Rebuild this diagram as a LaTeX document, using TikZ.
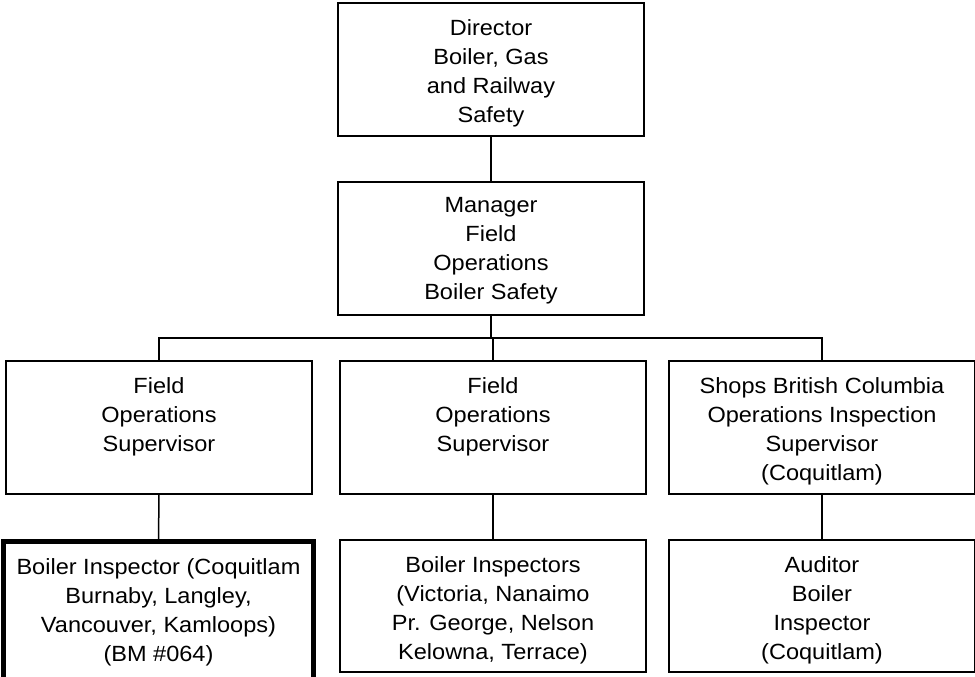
\documentclass[tikz,border=0pt]{standalone}
\usepackage{fontspec}
\setmainfont{Liberation Sans}[FakeStretch=1.07]
\newcommand{\boxfont}{\fontsize{22}{29}\selectfont}
\begin{document}
\begin{tikzpicture}[x=1pt,y=-1pt,
  box/.style={draw=black, line width=1.5pt, fill=white, rectangle, inner sep=0pt, outer sep=0pt, minimum width=306pt, minimum height=133pt},
  thickbox/.style={box, line width=4.5pt, minimum width=310pt, minimum height=170pt},
  txt/.style={anchor=north, align=center, inner sep=0pt, font=\boxfont},
  link/.style={draw=black, line width=1.5pt}]
\useasboundingbox (0,0) rectangle (975,677);
% boxes
\node[box] (d) at (491,69.5) {};
\node[box] (m) at (491,248.5) {};
\node[box] (a) at (159,427.5) {};
\node[box] (b) at (493,427.5) {};
\node[box] (c) at (822,427.5) {};
\node[thickbox] (a4) at (158.5,626.5) {};
\node[box, minimum height=132pt] (b4) at (493,606) {};
\node[box, minimum height=132pt] (c4) at (822,606) {};
% texts
\node[txt] (dt) at ([yshift=-16pt]d.north) {Director\\Boiler, Gas\\and Railway\\Safety};
\node[txt] (mt) at ([yshift=-15.5pt]m.north) {Manager\\Field\\Operations\\Boiler Safety};
\node[txt] (at) at ([yshift=-16pt]a.north) {Field\\Operations\\Supervisor};
\node[txt] (bt) at ([yshift=-16pt]b.north) {Field\\Operations\\Supervisor};
\node[txt] (ct) at ([yshift=-16pt]c.north) {Shops British Columbia\\Operations Inspection\\Supervisor\\(Coquitlam)};
\node[txt] (a4t) at ([yshift=-17pt]a4.north) {Boiler Inspector (Coquitlam\\Burnaby, Langley,\\Vancouver, Kamloops)\\(BM \#064)};
\node[txt] (b4t) at ([yshift=-16.5pt]b4.north) {Boiler Inspectors\\(Victoria, Nanaimo\\Pr. George, Nelson\\Kelowna, Terrace)};
\node[txt] (c4t) at ([yshift=-16.5pt]c4.north) {Auditor\\Boiler\\Inspector\\(Coquitlam)};
% connectors
\coordinate (bus) at (491,338);
\draw[link] (d.south) -- (m.north);
\draw[link] (m.south) -- (bus);
\draw[link] (a.north) |- (bus) -| (c.north);
\draw[link] (b.north) -- (b.north |- bus);
\draw[link] (a.south) -- (a4.north);
\draw[link] (b.south) -- (b4.north);
\draw[link] (c.south) -- (c4.north);
\end{tikzpicture}
\end{document}
